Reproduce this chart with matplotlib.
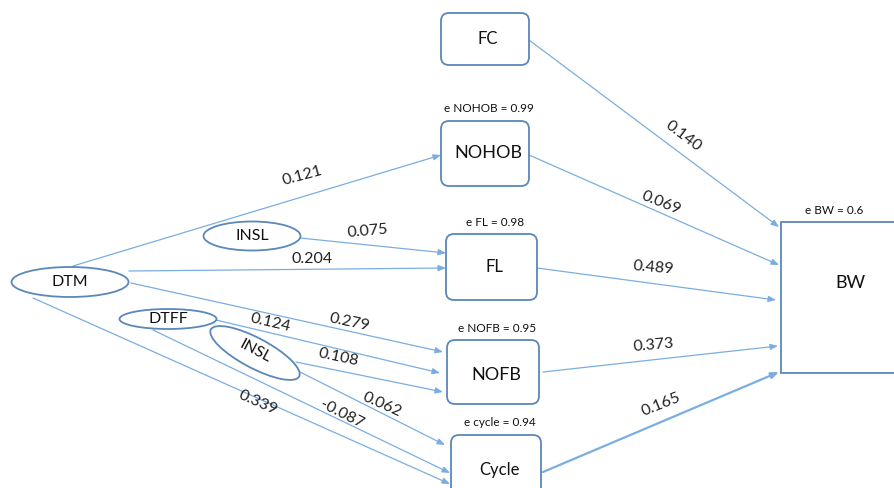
import matplotlib.pyplot as plt
from matplotlib.patches import FancyBboxPatch, Ellipse, Rectangle

plt.rcParams['font.family'] = ['Lato', 'DejaVu Sans']

# data
box_names = ["FC", "NOHOB", "FL", "NOFB", "Cycle"]
box_errors = [None, "e NOHOB = 0.99", "e FL = 0.98", "e NOFB = 0.95", "e cycle = 0.94"]
ellipse_names = ["DTM", "INSL", "DTFF", "INSL"]
outcome_name = "BW"
outcome_error = "e BW = 0.6"
path_coefs = ["0.121", "0.075", "0.204", "0.279", "0.124", "0.108",
              "0.062", "-0.087", "0.339",
              "0.140", "0.069", "0.489", "0.373", "0.165"]

# layout (pixel space of the picture)
box_xy = [(441, 13, 88, 52), (441, 121, 88, 65), (446, 234, 91, 66),
          (447, 340, 92, 64), (451, 435, 90, 70)]
ell_xy = [(70, 282, 117, 30, 0), (252, 236, 97, 29, 0),
          (168, 319, 97, 20, 0), (255, 353, 100, 30, 28)]
paths = [((73, 266), (441, 155)), ((300, 238), (446, 253)),
         ((129, 271), (446, 268)), ((131, 283), (443, 352)),
         ((216, 320), (440, 373)), ((296, 362), (443, 392)),
         ((300, 372), (445, 445)), ((153, 330), (450, 473)),
         ((33, 298), (450, 484)),
         ((529, 40), (779, 227)), ((529, 155), (779, 265)),
         ((537, 268), (776, 300)), ((543, 372), (778, 346)),
         ((543, 472), (779, 372))]
label_xy = [(302, 176, 15), (368, 231, 5), (312, 259, 0), (349, 322, -12),
            (270, 323, -13), (338, 357, -12), (382, 405, -24), (342, 414, -27),
            (258, 403, -24),
            (683, 136, -37), (661, 203, -22), (653, 268, -5), (654, 345, 5),
            (661, 405, 22)]

edge_col = "#5b87ba"
line_col = "#7aaee0"

fig = plt.figure(figsize=(8.94, 4.88), dpi=100)
ax = fig.add_axes([0, 0, 1, 1])
ax.set_xlim(0, 894)
ax.set_ylim(488, 0)
ax.axis("off")

# paths
for i, ((x0, y0), (x1, y1)) in enumerate(paths):
    lw = 1.6 if i == len(paths) - 1 else 0.9
    ax.annotate("", xy=(x1, y1), xytext=(x0, y0),
                arrowprops=dict(arrowstyle="-|>,head_length=0.45,head_width=0.18",
                                color=line_col, lw=lw, shrinkA=0, shrinkB=0))
for txt, (x, y, r) in zip(path_coefs, label_xy):
    ax.text(x, y, txt, fontsize=11.5, rotation=r, ha="center", va="center",
            color="#222222")

# rounded boxes
for name, err, (x, y, w, h) in zip(box_names, box_errors, box_xy):
    ax.add_patch(FancyBboxPatch((x + 8, y + 8), w - 16, h - 16,
                                boxstyle="round,pad=8", fc="white",
                                ec=edge_col, lw=1.3, zorder=3))
    fs = 13 if name in ("NOHOB", "NOFB") else 12
    ax.text(x + w / 2 + 3, y + h / 2 + (3 if name == "NOFB" else 0), name,
            fontsize=fs, ha="center", va="center", color="#111111", zorder=4)
    if err:
        ax.text(x + w / 2 + 4, y - 12, err, fontsize=8.5, ha="center",
                va="center", color="#111111")

# ellipses
for name, (cx, cy, w, h, a) in zip(ellipse_names, ell_xy):
    ax.add_patch(Ellipse((cx, cy), w, h, angle=a, fc="white", ec=edge_col,
                         lw=1.3, zorder=3))
    ax.text(cx, cy - (2 if a else 0), name, fontsize=11.5, rotation=-a,
            ha="center", va="center", color="#111111", zorder=4)

# outcome
ax.add_patch(Rectangle((781, 222), 130, 151, fc="white", ec=edge_col,
                       lw=1.3, zorder=3))
ax.text(850, 283, outcome_name, fontsize=13, ha="center", va="center",
        color="#111111", zorder=4)
ax.text(834, 210, outcome_error, fontsize=8.5, ha="center", va="center",
        color="#111111")

fig.savefig("out.png", dpi=100)
